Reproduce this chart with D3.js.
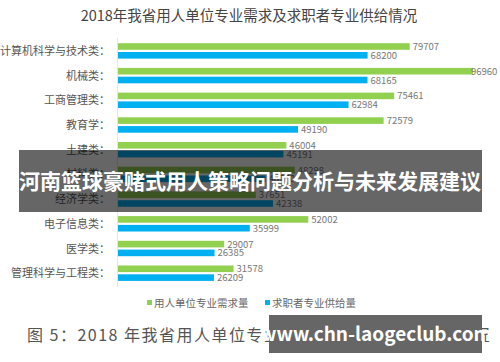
<!DOCTYPE html>
<html lang="zh">
<head>
<meta charset="UTF-8">
<title>2018 专业供需</title>
<script src="https://d3js.org/d3.v7.min.js"></script>
<style>
  body { margin: 0; background: #fff; }
  text { font-family: "Noto Sans CJK SC", "Noto Sans", sans-serif; }
</style>
</head>
<body>
<script>
    var width = 500, height = 362;

    var categories = ["计算机科学与技术类", "机械类", "工商管理类", "教育学", "土建类",
        "材料类", "经济学类", "电子信息类", "医学类", "管理科学与工程类"];
    var demand = [79707, 96960, 75461, 72579, 46004, 48298, 37651, 52002, 29007, 31578];
    var supply = [68200, 68165, 62984, 49190, 45191, 40270, 42338, 35999, 26385, 26209];
    var seriesNames = ["用人单位专业需求量", "求职者专业供给量"];
    var colors = ["#92d050", "#00b0f0"];

    var svg = d3.select("body").append("svg")
        .attr("width", width)
        .attr("height", height);

    // title
    svg.append("text")
        .attr("x", 249).attr("y", 21)
        .attr("text-anchor", "middle")
        .style("font-size", "14.5px")
        .style("fill", "#444")
        .text("2018年我省用人单位专业需求及求职者专业供给情况");

    var y = d3.scaleBand().domain(categories).range([38.6, 285.6]);
    var ySub = d3.scaleBand().domain([0, 1]).range([4.6, 20]).paddingInner(0.25);
    var x = d3.scaleLinear().domain([0, 100000]).range([118, 484]);

    // axis line
    svg.append("line")
        .attr("x1", 117.5).attr("x2", 117.5)
        .attr("y1", 38).attr("y2", 287)
        .attr("stroke", "#e6e6e6");

    // category labels
    svg.selectAll(".cat")
        .data(categories)
        .enter().append("text")
        .attr("class", "cat")
        .attr("x", 110)
        .attr("y", function(d) { return y(d) + y.bandwidth() / 2 + 4; })
        .attr("text-anchor", "end")
        .style("font-size", "11px")
        .style("fill", "#555")
        .text(function(d) { return d + "："; });

    var rows = categories.map(function(c, i) { return [c, demand[i], supply[i]]; });

    [0, 1].forEach(function(s) {
        svg.selectAll(".bar" + s)
            .data(rows)
            .enter().append("rect")
            .attr("x", x(0))
            .attr("y", function(d) { return y(d[0]) + ySub(s); })
            .attr("width", function(d) { return x(d[s + 1]) - x(0); })
            .attr("height", ySub.bandwidth())
            .style("fill", colors[s]);

        // labels that would run past the edge are pulled back onto the bar
        svg.selectAll(".val" + s)
            .data(rows)
            .enter().append("text")
            .attr("x", function(d) { return Math.min(x(d[s + 1]) + 3, 497 - 26); })
            .attr("y", function(d) { return y(d[0]) + ySub(s) + ySub.bandwidth() / 2 + 3.5; })
            .style("font-size", "9.5px")
            .style("fill", "#777")
            .text(function(d) { return d[s + 1]; });
    });

    // legend
    var legend = svg.append("g").attr("transform", "translate(147,303)");
    var legX = [0, 118];
    seriesNames.forEach(function(n, i) {
        legend.append("rect")
            .attr("x", legX[i]).attr("y", -3)
            .attr("width", 5).attr("height", 5)
            .style("fill", colors[i]);
        legend.append("text")
            .attr("x", legX[i] + 7).attr("y", 3.5)
            .style("font-size", "10.5px")
            .style("fill", "#666")
            .text(n);
    });

    // caption
    svg.append("text")
        .attr("x", 27).attr("y", 341)
        .style("font-size", "16px")
        .style("letter-spacing", "1.5px")
        .style("fill", "#555")
        .text("图 5：2018 年我省用人单位专业需求及求职者专业供给情况");

    // overlays
    svg.append("rect")
        .attr("x", 19).attr("y", 150)
        .attr("width", 463).attr("height", 62)
        .style("fill", "rgba(0,0,0,0.6)");
    svg.append("text")
        .attr("x", 250).attr("y", 189)
        .attr("text-anchor", "middle")
        .style("font-size", "21px")
        .style("font-weight", "bold")
        .style("fill", "#fff")
        .text("河南篮球豪赌式用人策略问题分析与未来发展建议");

    svg.append("rect")
        .attr("x", 269).attr("y", 315)
        .attr("width", 213).attr("height", 38)
        .style("fill", "#666");
    svg.append("text")
        .attr("x", 376).attr("y", 341)
        .attr("text-anchor", "middle")
        .style("font-size", "19px")
        .style("font-weight", "bold")
        .style("fill", "#fff")
        .text("www.chn-laogeclub.com");
</script>
</body>
</html>
